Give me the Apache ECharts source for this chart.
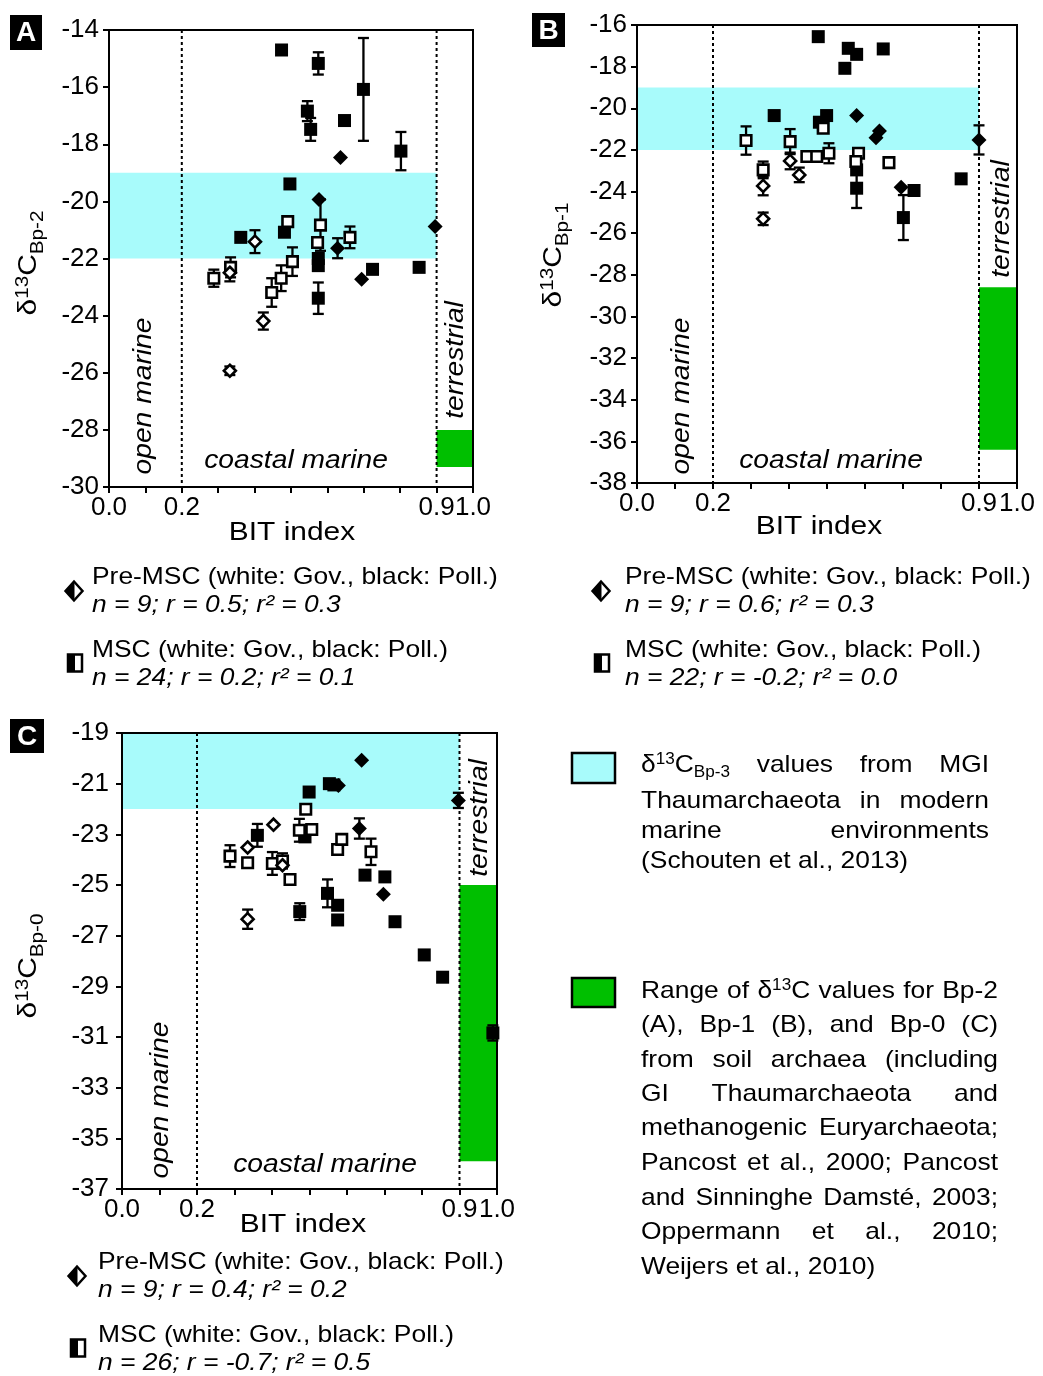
<!DOCTYPE html>
<html>
<head>
<meta charset="utf-8">
<title>BIT index vs d13C of biphytanes</title>
<script src="https://cdn.jsdelivr.net/npm/echarts@6/dist/echarts.min.js"></script>
<style>
    html, body { margin: 0; padding: 0; background: #fff; }
    #main { width: 1043px; height: 1376px; }
</style>
</head>
<body>
<div id="main"></div>
<script>
var FONT = '"Liberation Sans", Arial, Helvetica, sans-serif';
var CYAN = '#a8fbfb';
var GREEN = '#00bf00';

// x axis (BIT index)
var bitTicks = ['0.0', '0.2', '0.9', '1.0'];
var zoneBounds = [0.2, 0.9];
var marineBit = [0, 0.9];
var soilBit = [0.9, 1.0];
var marineRange = [-22, -19];

// each point: [BIT index, d13C, error]
// panel A - Bp-2
var yRangeA = [-30, -14];
var soilRangeA = [-29.3, -28];
var aPreGov = [[0.332, -22.5, 0.3], [0.401, -21.41, 0.4], [0.424, -24.19, 0.3], [0.332, -25.93, 0.15]];
var aPrePoll = [[0.636, -18.46, 0], [0.577, -19.93, 0], [0.628, -21.64, 0.35], [0.694, -22.73, 0], [0.896, -20.88, 0]];
var aMscGov = [[0.288, -22.69, 0.3], [0.334, -22.31, 0.35], [0.491, -20.71, 0], [0.504, -22.11, 0.5], [0.473, -22.69, 0.45],
    [0.447, -23.19, 0.5], [0.581, -20.83, 0.9], [0.573, -21.44, 0], [0.662, -21.26, 0.38]];
var aMscPoll = [[0.474, -14.7, 0], [0.575, -15.17, 0.39], [0.699, -16.08, 1.8], [0.545, -16.84, 0.35], [0.554, -17.48, 0.4],
    [0.647, -17.17, 0], [0.802, -18.24, 0.67], [0.497, -19.39, 0], [0.362, -21.26, 0], [0.482, -21.08, 0], [0.575, -22.0, 0],
    [0.575, -22.25, 0], [0.575, -23.39, 0.55], [0.724, -22.38, 0], [0.852, -22.31, 0]];

// panel B - Bp-1
var yRangeB = [-38, -16];
var soilRangeB = [-36.4, -28.6];
var bPreGov = [[0.332, -23.73, 0.45], [0.332, -25.31, 0.3], [0.403, -22.53, 0.4], [0.427, -23.2, 0.35]];
var bPrePoll = [[0.578, -20.35, 0], [0.638, -21.09, 0], [0.629, -21.41, 0], [0.695, -23.79, 0], [0.9, -21.52, 0.7]];
var bMscGov = [[0.287, -21.55, 0.68], [0.332, -22.96, 0.4], [0.403, -21.6, 0.6], [0.447, -22.32, 0], [0.473, -22.32, 0],
    [0.505, -22.16, 0.48], [0.49, -20.96, 0], [0.583, -22.16, 0], [0.576, -22.56, 0], [0.663, -22.61, 0]];
var bMscPoll = [[0.477, -16.56, 0], [0.556, -17.12, 0], [0.578, -17.41, 0], [0.547, -18.08, 0], [0.648, -17.15, 0],
    [0.361, -20.35, 0], [0.499, -20.35, 0], [0.48, -20.67, 0], [0.578, -22.96, 0], [0.578, -23.84, 0.95],
    [0.729, -23.95, 0], [0.701, -25.25, 1.08], [0.853, -23.39, 0]];

// panel C - Bp-0
var yRangeC = [-37, -19];
var soilRangeC = [-35.9, -25];
var cPreGov = [[0.335, -23.52, 0], [0.404, -22.62, 0], [0.428, -24.22, 0], [0.335, -26.35, 0.38]];
var cPrePoll = [[0.639, -20.08, 0], [0.577, -21.07, 0], [0.633, -22.77, 0.4], [0.697, -25.37, 0], [0.897, -21.66, 0.3]];
var cMscGov = [[0.288, -23.86, 0.43], [0.335, -24.12, 0], [0.401, -24.15, 0.45], [0.448, -24.78, 0], [0.49, -22.01, 0],
    [0.473, -22.84, 0.45], [0.506, -22.81, 0], [0.575, -23.6, 0], [0.586, -23.2, 0], [0.664, -23.69, 0.52], [0.428, -24.05, 0.3]];
var cMscPoll = [[0.499, -21.33, 0], [0.361, -23.04, 0.45], [0.553, -21.0, 0], [0.565, -21.05, 0], [0.488, -23.1, 0],
    [0.474, -26.05, 0.33], [0.548, -25.33, 0.55], [0.575, -25.8, 0], [0.575, -26.38, 0], [0.648, -24.61, 0],
    [0.701, -24.68, 0], [0.728, -26.45, 0], [0.806, -27.76, 0], [0.855, -28.64, 0], [0.989, -30.84, 0.3]];

// statistics printed under each panel
var statsA = ['n = 9; r = 0.5; r² = 0.3', 'n = 24; r = 0.2; r² = 0.1'];
var statsB = ['n = 9; r = 0.6; r² = 0.3', 'n = 22; r = -0.2; r² = 0.0'];
var statsC = ['n = 9; r = 0.4; r² = 0.2', 'n = 26; r = -0.7; r² = 0.5'];

var measureCtx = document.createElement('canvas').getContext('2d');
function measure(str, size, italic) {
    measureCtx.font = (italic ? 'italic ' : '') + size + 'px ' + FONT;
    return measureCtx.measureText(str).width;
}

/**
 * plain graphic text
 */
function label(str, x, y, size, opts) {
    opts = opts || {};
    return {
        type: 'text', x: x, y: y, silent: true,
        rotation: opts.rot || 0,
        scaleX: opts.sx || 1,
        style: {
            text: str, fill: opts.fill || '#000',
            fontSize: size, fontFamily: FONT,
            fontStyle: opts.italic ? 'italic' : 'normal',
            fontWeight: opts.bold ? 'bold' : 'normal',
            align: opts.align || 'left', verticalAlign: 'middle'
        }
    };
}

/**
 * text made of pieces with super/subscripts; rot = true draws it bottom-to-top centred on (x, y)
 */
function pieces(frags, x, y, big, small, sx, rot) {
    var total = 0;
    frags.forEach(function (f) { total += measure(f[0], f[1] == 'n' ? big : small) * sx; });
    var a = rot ? -total / 2 : 0;
    var els = [];
    frags.forEach(function (f) {
        var size = f[1] == 'n' ? big : small;
        var dy = f[1] == 'sup' ? -big * 0.22 : (f[1] == 'sub' ? big * 0.33 : 0);
        var px = rot ? x + dy : x + a;
        var py = rot ? y - a : y + dy;
        els.push(label(f[0], px, py, size, { sx: sx, rot: rot ? Math.PI / 2 : 0 }));
        a += measure(f[0], size) * sx;
    });
    return els;
}

/**
 * justified paragraph, one element per word piece
 */
function paragraph(lines, left, right, ys, size, sx) {
    var els = [];
    lines.forEach(function (words, li) {
        words = words.map(function (w) { return typeof w == 'string' ? [[w, 'n']] : w; });
        var widths = words.map(function (w) {
            var s = 0;
            w.forEach(function (f) { s += measure(f[0], f[1] == 'n' ? size : size * 0.65) * sx; });
            return s;
        });
        var sum = widths.reduce(function (p, q) { return p + q; }, 0);
        var gap = measure(' ', size) * sx;
        if (li < lines.length - 1 && words.length > 1) {
            gap = (right - left - sum) / (words.length - 1);
        }
        var x = left;
        words.forEach(function (w, wi) {
            els = els.concat(pieces(w, x, ys[li], size, size * 0.65, sx, false));
            x += widths[wi] + gap;
        });
    });
    return els;
}

function panelTag(letter, x, y, w, h) {
    return [
        { type: 'rect', shape: { x: x, y: y, width: w, height: h }, style: { fill: '#000' }, silent: true },
        label(letter, x + w / 2, y + h / 2 + 1, 28, { align: 'center', fill: '#fff', bold: true })
    ];
}

// legend icons: half black, half white
function halfDiamond(cx, cy) {
    return [
        { type: 'polygon', shape: { points: [[cx - 8.5, cy], [cx, cy - 9.5], [cx + 8.5, cy], [cx, cy + 9.5]] },
            style: { fill: '#fff', stroke: '#000', lineWidth: 2.5 }, silent: true },
        { type: 'polygon', shape: { points: [[cx - 8.5, cy], [cx, cy - 9.5], [cx, cy + 9.5]] },
            style: { fill: '#000', stroke: '#000', lineWidth: 1 }, silent: true }
    ];
}
function halfSquare(cx, cy) {
    return [
        { type: 'rect', shape: { x: cx - 7, y: cy - 8.5, width: 14, height: 17 },
            style: { fill: '#fff', stroke: '#000', lineWidth: 2.5 }, silent: true },
        { type: 'rect', shape: { x: cx - 7, y: cy - 8.5, width: 7, height: 17 },
            style: { fill: '#000' }, silent: true }
    ];
}

function legendBlock(iconX, textX, y0, stats) {
    var els = [];
    els = els.concat(halfDiamond(iconX, y0 + 14));
    els.push(label('Pre-MSC (white: Gov., black: Poll.)', textX, y0, 24, { sx: 1.1 }));
    els.push(label(stats[0], textX, y0 + 28, 24, { sx: 1.1, italic: true }));
    els = els.concat(halfSquare(iconX + 1, y0 + 86));
    els.push(label('MSC (white: Gov., black: Poll.)', textX, y0 + 73, 24, { sx: 1.1 }));
    els.push(label(stats[1], textX, y0 + 101, 24, { sx: 1.1, italic: true }));
    return els;
}

function renderBand(params, api) {
    var p0 = api.coord([api.value(0), api.value(3)]);
    var p1 = api.coord([api.value(1), api.value(2)]);
    return {
        type: 'rect',
        shape: { x: p0[0], y: p0[1], width: p1[0] - p0[0], height: p1[1] - p0[1] },
        style: { fill: api.visual('color') }
    };
}

function renderBoundary(params, api) {
    var cs = params.coordSys;
    var x = api.coord([api.value(0), api.value(1)])[0];
    return {
        type: 'line',
        shape: { x1: x, y1: cs.y, x2: x, y2: cs.y + cs.height },
        style: { stroke: '#000', lineWidth: 2, lineDash: [3, 3] }
    };
}

function renderErr(params, api) {
    var x = api.value(0), y = api.value(1), e = api.value(2);
    var hi = api.coord([x, y + e]);
    var lo = api.coord([x, y - e]);
    var w = 5.5;
    var st = { stroke: '#000', lineWidth: 2.3 };
    return {
        type: 'group',
        children: [
            { type: 'line', shape: { x1: hi[0], y1: hi[1], x2: lo[0], y2: lo[1] }, style: st },
            { type: 'line', shape: { x1: hi[0] - w, y1: hi[1], x2: hi[0] + w, y2: hi[1] }, style: st },
            { type: 'line', shape: { x1: lo[0] - w, y1: lo[1], x2: lo[0] + w, y2: lo[1] }, style: st }
        ]
    };
}

function marks(gi, data, symbol, size, filled, z) {
    return {
        type: 'scatter', xAxisIndex: gi, yAxisIndex: gi, z: z, silent: true,
        symbol: symbol, symbolSize: size,
        data: data.map(function (d) { return [d[0], d[1]]; }),
        itemStyle: filled ? { color: '#000', opacity: 1 }
            : { color: '#fff', borderColor: '#000', borderWidth: 2.6, opacity: 1 }
    };
}

function panelSeries(gi, yRange, soilRange, preGov, prePoll, mscGov, mscPoll) {
    var errData = [].concat(mscPoll, mscGov, prePoll, preGov).filter(function (d) { return d[2] > 0; });
    return [
        { type: 'custom', xAxisIndex: gi, yAxisIndex: gi, z: 1, silent: true, renderItem: renderBand,
            itemStyle: { color: CYAN }, data: [[marineBit[0], marineBit[1], marineRange[0], marineRange[1]]] },
        { type: 'custom', xAxisIndex: gi, yAxisIndex: gi, z: 1, silent: true, renderItem: renderBand,
            itemStyle: { color: GREEN }, data: [[soilBit[0], soilBit[1], soilRange[0], soilRange[1]]] },
        { type: 'custom', xAxisIndex: gi, yAxisIndex: gi, z: 2, silent: true, renderItem: renderBoundary,
            data: zoneBounds.map(function (b) { return [b, yRange[0]]; }) },
        { type: 'custom', xAxisIndex: gi, yAxisIndex: gi, z: 3, silent: true, renderItem: renderErr, data: errData },
        marks(gi, mscPoll, 'rect', 13, true, 4),
        marks(gi, mscGov, 'rect', 10.5, false, 5),
        marks(gi, prePoll, 'diamond', 15, true, 6),
        marks(gi, preGov, 'diamond', 12, false, 6)
    ];
}

function xAxisFor(gi) {
    return {
        gridIndex: gi, type: 'value', min: 0, max: 1, interval: 0.1,
        axisLine: { onZero: false, lineStyle: { color: '#000', width: 2 } },
        axisTick: { length: 6, lineStyle: { color: '#000', width: 2 } },
        splitLine: { show: false },
        axisLabel: {
            color: '#000', fontSize: 26, margin: 8, fontFamily: FONT,
            formatter: function (v) {
                var s = v.toFixed(1);
                return bitTicks.indexOf(s) >= 0 ? s : '';
            }
        }
    };
}

function yAxisFor(gi, range, margin) {
    return {
        gridIndex: gi, type: 'value', min: range[0], max: range[1], interval: 2,
        axisLine: { show: true, onZero: false, lineStyle: { color: '#000', width: 2 } },
        axisTick: { show: true, length: 6, lineStyle: { color: '#000', width: 2 } },
        splitLine: { show: false },
        axisLabel: { color: '#000', fontSize: 26, margin: margin, fontFamily: FONT }
    };
}

function gridBox(left, top, width, height) {
    return { left: left, top: top, width: width, height: height, show: true, z: 10,
        borderColor: '#000', borderWidth: 2, backgroundColor: 'transparent' };
}

var chart = echarts.init(document.getElementById('main'), null, { renderer: 'canvas' });

var graphics = [];
graphics = graphics.concat(panelTag('A', 10, 15, 32, 35), panelTag('B', 532, 13, 33, 34), panelTag('C', 10, 719, 34, 34));

// axis titles
var bitIt = 1.15;
graphics.push(label('BIT index', 292, 533, 26, { align: 'center', sx: bitIt }));
graphics.push(label('BIT index', 819, 527, 26, { align: 'center', sx: bitIt }));
graphics.push(label('BIT index', 303, 1225, 26, { align: 'center', sx: bitIt }));
graphics = graphics.concat(pieces([['δ', 'n'], ['13', 'sup'], ['C', 'n'], ['Bp-2', 'sub']], 29, 263, 26, 18, 1.15, true));
graphics = graphics.concat(pieces([['δ', 'n'], ['13', 'sup'], ['C', 'n'], ['Bp-1', 'sub']], 554, 255, 26, 18, 1.15, true));
graphics = graphics.concat(pieces([['δ', 'n'], ['13', 'sup'], ['C', 'n'], ['Bp-0', 'sub']], 29, 966, 26, 18, 1.15, true));

// environment zones
var zoneFont = 25, zoneSx = 1.13, up = Math.PI / 2;
[[144, 396, 296, 461, 456, 360], [682, 396, 831, 461, 1002, 219], [161, 1100, 325, 1165, 480, 818]].forEach(function (p) {
    graphics.push(label('open marine', p[0], p[1], zoneFont, { align: 'center', italic: true, sx: zoneSx, rot: up }));
    graphics.push(label('coastal marine', p[2], p[3], zoneFont, { align: 'center', italic: true, sx: zoneSx }));
    graphics.push(label('terrestrial', p[4], p[5], zoneFont, { align: 'center', italic: true, sx: zoneSx, rot: up }));
});

// legends under the panels
graphics = graphics.concat(legendBlock(74, 92, 577, statsA));
graphics = graphics.concat(legendBlock(601, 625, 577, statsB));
graphics = graphics.concat(legendBlock(77, 98, 1262, statsC));

// shaded range legend
graphics.push({ type: 'rect', shape: { x: 572, y: 753, width: 43, height: 30 },
    style: { fill: CYAN, stroke: '#000', lineWidth: 2.5 }, silent: true });
graphics.push({ type: 'rect', shape: { x: 572, y: 978, width: 43, height: 29 },
    style: { fill: GREEN, stroke: '#000', lineWidth: 2.5 }, silent: true });
var d13 = [['δ', 'n'], ['13', 'sup'], ['C', 'n']];
graphics = graphics.concat(paragraph([
    [d13.concat([['Bp-3', 'sub']]), 'values', 'from', 'MGI'],
    ['Thaumarchaeota', 'in', 'modern'],
    ['marine', 'environments'],
    ['(Schouten', 'et', 'al.,', '2013)']
], 641, 989, [765, 801, 831, 861], 24, 1.1));
graphics = graphics.concat(paragraph([
    ['Range', 'of', d13, 'values', 'for', 'Bp-2'],
    ['(A),', 'Bp-1', '(B),', 'and', 'Bp-0', '(C)'],
    ['from', 'soil', 'archaea', '(including'],
    ['GI', 'Thaumarchaeota', 'and'],
    ['methanogenic', 'Euryarchaeota;'],
    ['Pancost', 'et', 'al.,', '2000;', 'Pancost'],
    ['and', 'Sinninghe', 'Damsté,', '2003;'],
    ['Oppermann', 'et', 'al.,', '2010;'],
    ['Weijers', 'et', 'al.,', '2010)']
], 641, 998, [991, 1025, 1060, 1094, 1128, 1163, 1198, 1232, 1267], 24, 1.1));

var option = {
    animation: false,
    backgroundColor: '#fff',
    textStyle: { fontFamily: FONT },
    grid: [gridBox(109, 30, 364, 457), gridBox(637, 25, 380, 458), gridBox(122, 733, 375, 456)],
    xAxis: [xAxisFor(0), xAxisFor(1), xAxisFor(2)],
    yAxis: [yAxisFor(0, yRangeA, 10), yAxisFor(1, yRangeB, 10), yAxisFor(2, yRangeC, 13)],
    series: [].concat(
        panelSeries(0, yRangeA, soilRangeA, aPreGov, aPrePoll, aMscGov, aMscPoll),
        panelSeries(1, yRangeB, soilRangeB, bPreGov, bPrePoll, bMscGov, bMscPoll),
        panelSeries(2, yRangeC, soilRangeC, cPreGov, cPrePoll, cMscGov, cMscPoll)
    ),
    graphic: { elements: graphics }
};
chart.setOption(option);
</script>
</body>
</html>
